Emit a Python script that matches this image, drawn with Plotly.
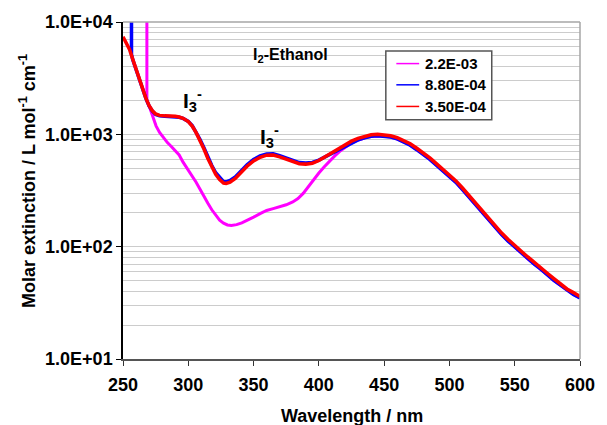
import plotly.graph_objects as go

# Molar extinction spectra of iodine in ethanol at three concentrations (mol/L)
wl_a = [268.3, 268.3, 270.5, 272.8, 275.3, 278, 281, 284, 287, 290, 293, 296, 300, 303, 306,
        309, 312, 315, 318, 321, 324, 327, 330, 333, 337, 341, 345, 350, 355, 360, 365, 370,
        375, 380, 384, 388, 392, 396, 400, 404, 408, 412, 416, 420, 424, 428, 432, 436, 440,
        445, 450, 455, 460, 465, 470, 475, 480, 485, 490, 495, 500, 505, 510, 515, 520, 525,
        530, 535, 540, 545, 550, 555, 560, 565, 570, 575, 580, 585, 590, 595, 600]
eps_a = [50000, 2000, 1720, 1460, 1190, 1040, 930, 845, 780, 720, 655, 565, 481, 425, 375,
         325, 278, 243, 213, 190, 172, 162, 156, 154, 157, 163, 171, 183, 197, 210, 218, 226,
         236, 250, 268, 298, 345, 400, 452, 512, 575, 640, 706, 770, 825, 870, 905, 935, 955,
         968, 963, 944, 909, 855, 800, 730, 665, 598, 532, 474, 424, 373, 322, 276, 235, 200,
         172, 148, 128, 112, 99, 88, 78, 70, 63, 56, 50, 45.5, 41, 37.5, 35]

wl_b = [256.5, 256.5, 257.5, 260, 262.5, 265, 267.5, 270, 272.5, 275, 278, 282, 286, 290,
        293, 296, 300, 303, 306, 309, 312, 315, 318, 321, 324, 327, 329, 332, 336, 340, 345,
        350, 355, 360, 365, 370, 375, 380, 385, 390, 395, 400, 405, 410, 415, 420, 425, 430,
        435, 440, 445, 450, 455, 460, 465, 470, 475, 480, 485, 490, 495, 500, 505, 510, 515,
        520, 525, 530, 535, 540, 545, 550, 555, 560, 565, 570, 575, 580, 585, 590, 595, 600]
eps_b = [50000, 5150, 4600, 3750, 3080, 2530, 2090, 1790, 1610, 1505, 1462, 1448, 1445, 1440,
         1420, 1385, 1305, 1195, 1050, 900, 760, 630, 528, 455, 410, 380, 378, 388, 418, 470,
         535, 597, 642, 668, 670, 645, 612, 580, 560, 555, 562, 590, 632, 680, 735, 790, 845,
         893, 933, 960, 970, 965, 945, 910, 855, 800, 730, 665, 598, 532, 474, 424, 373, 322,
         276, 235, 200, 172, 148, 128, 112, 99, 88, 78, 70, 63, 56, 50, 45.5, 41, 37.5, 35]

wl_c = [250, 252.5, 255, 257.5, 260, 262.5, 265, 267.5, 270, 272.5, 275, 278, 282, 286, 290,
        293, 296, 300, 303, 306, 309, 312, 315, 318, 321, 324, 327, 329, 332, 336, 340, 345,
        350, 355, 360, 365, 370, 375, 380, 385, 390, 395, 400, 405, 410, 415, 420, 425, 430,
        435, 440, 445, 450, 455, 460, 465, 470, 475, 480, 485, 490, 495, 500, 505, 510, 515,
        520, 525, 530, 535, 540, 545, 550, 555, 560, 565, 570, 575, 580, 585, 590, 595, 600]
eps_c = [7400, 6500, 5700, 4650, 3800, 3100, 2550, 2100, 1800, 1620, 1520, 1475, 1460, 1458,
         1450, 1425, 1390, 1300, 1185, 1035, 880, 740, 610, 510, 440, 395, 368, 365, 375, 405,
         455, 520, 580, 625, 652, 655, 630, 598, 568, 548, 543, 552, 585, 635, 690, 752, 812,
         870, 920, 960, 990, 1002, 995, 972, 935, 875, 825, 752, 685, 617, 548, 489, 437, 385,
         333, 285, 243, 206, 178, 153, 132, 116, 102, 91, 81, 72, 65, 58, 52, 47, 42, 39, 36]

series = [
    ("2.2E-03", wl_a, eps_a, "#FF00FF", 3.0),
    ("8.80E-04", wl_b, eps_b, "#0000FF", 3.5),
    ("3.50E-04", wl_c, eps_c, "#FF0000", 3.5),
]

x_ticks = [250, 300, 350, 400, 450, 500, 550, 600]
y_ticks = [10, 100, 1000, 10000]
y_ticktext = ["1.0E+01", "1.0E+02", "1.0E+03", "1.0E+04"]
y_minor = [m * 10 ** d for d in range(1, 4) for m in range(2, 10)]

FONT = "Liberation Sans, Arial, sans-serif"
BOLD = dict(family=FONT, weight="bold", color="black")

fig = go.Figure()
for name, wl, eps, color, width in series:
    fig.add_trace(go.Scatter(x=wl, y=eps, mode="lines", name=name,
                             showlegend=False, line=dict(color=color, width=width)))

# legend box drawn in paper coordinates inside the plot area
box_x0, box_x1, box_y0, box_y1 = 0.5751, 0.8069, 0.7101, 0.9142
key_x0, key_x1, label_x = 0.5981, 0.6481, 0.6567
row_y = [0.8766, 0.8136, 0.7494]

shapes = [
    dict(type="line", xref="paper", yref="paper", x0=0, x1=1, y0=1, y1=1,
         line=dict(color="#a6a6a6", width=1.5)),
    dict(type="line", xref="paper", yref="paper", x0=1, x1=1, y0=0, y1=1,
         line=dict(color="#a6a6a6", width=1.5)),
    dict(type="rect", xref="paper", yref="paper", x0=box_x0, x1=box_x1, y0=box_y0, y1=box_y1,
         fillcolor="white", line=dict(color="#555555", width=1.5)),
]
annotations = []
for (name, _, _, color, _), yy in zip(series, row_y):
    shapes.append(dict(type="line", xref="paper", yref="paper", x0=key_x0, x1=key_x1,
                       y0=yy, y1=yy, line=dict(color=color, width=1.5)))
    annotations.append(dict(text=name, xref="paper", yref="paper", x=label_x, y=yy,
                            xanchor="left", yanchor="middle", showarrow=False,
                            font=dict(size=15, **BOLD)))

annotations += [
    dict(text="Wavelength / nm", xref="paper", yref="paper", x=0.5, y=-0.17,
         xanchor="center", yanchor="middle", showarrow=False, font=dict(size=18, **BOLD)),
    dict(text="Molar extinction / L mol<sup>-1</sup> cm<sup>-1</sup>", xref="paper",
         yref="paper", x=-0.21, y=0.528, xanchor="center", yanchor="middle",
         textangle=-90, showarrow=False, font=dict(size=18, **BOLD)),
    dict(text="I<sub>2</sub>-Ethanol", xref="paper", yref="paper", x=0.2811, y=0.9,
         xanchor="left", yanchor="middle", showarrow=False, font=dict(size=16, **BOLD)),
    dict(text="I<sub>3</sub><sup>-</sup>", xref="paper", yref="paper", x=0.1266, y=0.768,
         xanchor="left", yanchor="middle", showarrow=False, font=dict(size=21, **BOLD)),
    dict(text="I<sub>3</sub><sup>-</sup>", xref="paper", yref="paper", x=0.2961, y=0.659,
         xanchor="left", yanchor="middle", showarrow=False, font=dict(size=21, **BOLD)),
]

fig.update_layout(
    width=607, height=425,
    margin=dict(l=123, r=18, t=21, b=66),
    paper_bgcolor="white", plot_bgcolor="white",
    font=dict(size=18, **BOLD),
    showlegend=False,
    xaxis=dict(range=[250, 600], tickvals=x_ticks, ticks="outside", ticklen=5,
               tickcolor="#333333", showgrid=False, zeroline=False, showline=True,
               linecolor="#555555", linewidth=1.5, ticklabelstandoff=4,
               tickfont=dict(size=18, **BOLD)),
    yaxis=dict(type="log", range=[1, 4], tickvals=y_ticks, ticktext=y_ticktext,
               ticks="outside", ticklen=5, tickcolor="black", showline=True,
               linecolor="black", linewidth=1.5, showgrid=True, gridcolor="#cccccc",
               gridwidth=1, zeroline=False,
               minor=dict(tickvals=y_minor, showgrid=True, gridcolor="#cccccc",
                          gridwidth=1, ticks=""),
               tickfont=dict(size=18, **BOLD)),
    shapes=shapes,
    annotations=annotations,
)

fig.write_html("out.html")
